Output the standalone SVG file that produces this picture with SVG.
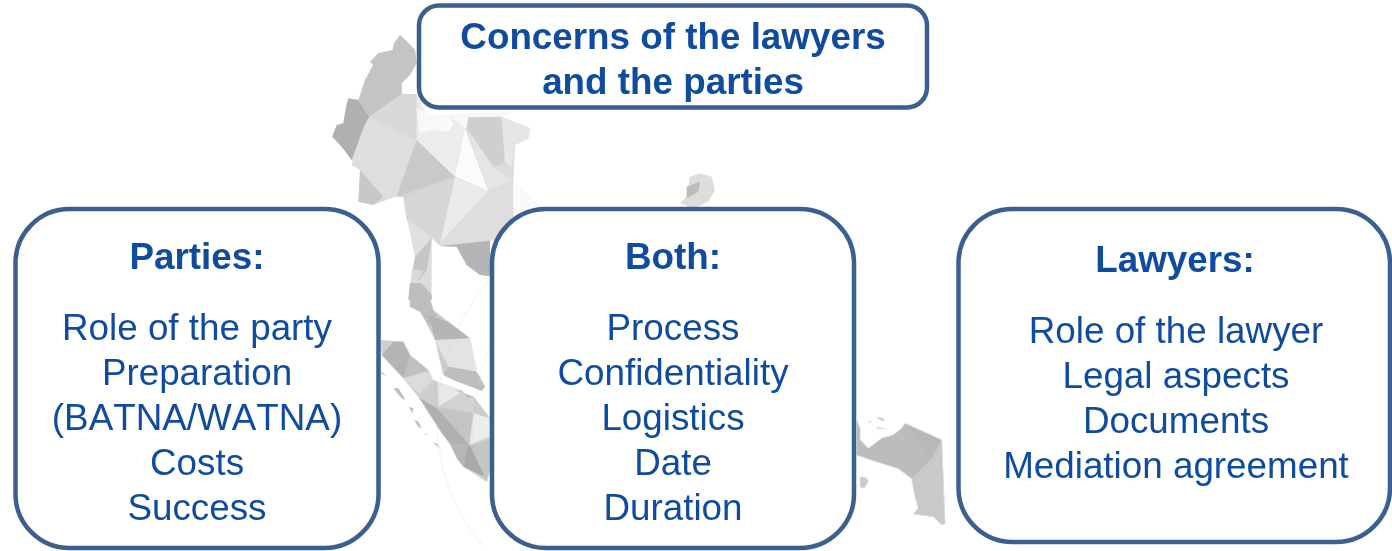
<svg xmlns="http://www.w3.org/2000/svg" width="1392" height="551" viewBox="0 0 1392 551">
<defs><filter id="soft" x="-5%" y="-5%" width="110%" height="110%"><feGaussianBlur stdDeviation="0.5"/></filter></defs>
<style>
.box{fill:#fff;stroke:#3b6090;stroke-width:4.5}
text{font-family:"Liberation Sans",Arial,sans-serif;fill:#0f4c9f;text-anchor:middle;font-kerning:none}
.h{font-weight:bold;font-size:36.800px}
.b{font-size:36.800px}
.d{fill:none;stroke:#c8c8c8;stroke-width:2;stroke-dasharray:3 4}
</style>
<rect width="1392" height="551" fill="#fff"/>
<g id="map" filter="url(#soft)">
<g transform="translate(320 0) scale(.33333)">
<path fill="#dcdcdc" d="M240 105L262 125 285 150 290 190 245 250 245 282 290 282 300 330 340 390 385 395 400 375 390 352 435 385 445 352 545 350 630 385 625 415 585 435 580 545 660 620 580 690 510 722 510 828 480 825 440 795 410 740 360 738 335 715 335 900 265 900 270 850 285 770 262 660 250 590 225 590 160 615 115 605 120 510 95 480 65 440 37 410 50 375 70 370 85 295 115 300 135 240 160 195 150 185 175 160 218 150 222 130Z"/>
<path fill="#c4c4c4" d="M240 105L262 125 285 150 290 190 270 225 245 250 245 282 150 350 115 300 135 240 160 195 150 185 175 160 218 150 222 130Z"/>
<path fill="#b0b0b0" d="M115 300L85 295 78 320 70 370 50 375 37 410 65 440 95 480 130 385 148 350Z"/>
<path fill="#d8d8d8" d="M148 350L245 282 290 282 290 420Z"/>
<path fill="#dedede" d="M148 350L290 420 225 590 190 590 120 510 95 495 130 385Z"/>
<path fill="#c8c8c8" d="M120 510L190 590 160 615 115 605Z"/>
<path fill="#c9c9c9" d="M290 420L405 530 230 590Z"/>
<path fill="#ececec" d="M290 282L340 390 385 395 400 375 390 352 435 385 405 530 290 420Z"/>
<path fill="#f8f8f8" d="M290 325L340 345 450 340 580 335 550 350 435 385 390 352 385 395 340 390 300 400Z"/>
<path fill="#cfcfcf" d="M440 385L445 352 545 350 555 490 520 500Z"/>
<path fill="#e6e6e6" d="M545 350L630 385 625 415 585 435 575 500 555 490Z"/>
<path fill="#fbfbfb" d="M435 385L505 572 405 530Z"/>
<path fill="#e5e5e5" d="M440 385L520 500 580 540 505 572Z"/>
<path fill="#d2d2d2" d="M405 530L360 730 250 590 230 590Z"/>
<path fill="#d6d6d6" d="M250 590L405 535 360 730 330 710 260 660Z"/>
<path fill="#ebebeb" d="M405 535L505 572 360 730Z"/>
<path fill="#dedede" d="M505 572L580 545 580 690 555 720 360 730Z"/>
<path fill="#fafafa" d="M580 545L660 620 580 690Z"/>
<path fill="#b5b5b5" d="M360 738L510 722 510 828 480 825 440 795 410 740Z"/>
<path fill="#e0e0e0" d="M262 660L335 710 325 760 290 780 280 735Z"/>
<path fill="#c5c5c5" d="M285 770L335 715 320 810 300 840 275 830Z"/>
<path fill="#bdbdbd" d="M270 850L305 850 335 885 335 900 265 900Z"/>
<path fill="#ddd" d="M1100 590L1110 530 1140 520 1175 530 1185 570 1165 605 1120 625 1080 610Z"/>
<path fill="#bbb" d="M1100 560L1140 545 1135 575 1100 595Z"/>
</g>
<g transform="translate(360 270) scale(.33333)">
<path fill="#ccc" d="M150 40L180 40 205 70 220 120 265 155 330 205 350 305 375 350 365 362 280 330 250 315 225 210 205 170 195 150 180 125 150 110Z"/>
<path fill="#ccc" d="M62 210L130 215 150 255 205 300 220 330 285 355 345 385 390 445 390 600 380 635 310 590 270 522 235 440 178 385 130 325 65 255Z"/>
<path fill="#bdbdbd" d="M150 40L180 40 205 70 220 120 230 135 205 170 195 150 180 125 150 110Z"/>
<path fill="#b5b5b5" d="M205 135L265 155 330 205 225 210Z"/>
<path fill="#e3e3e3" d="M225 210L330 205 345 275 350 305 265 290Z"/>
<path fill="#bdbdbd" d="M265 290L350 305 375 350 365 362 320 345 280 330 250 315Z"/>
<path fill="#d8d8d8" d="M155 0L190 0 180 25 155 30Z"/>
<path fill="#b5b5b5" d="M350 0L390 0 390 18 360 12Z"/>
<path fill="#d0d0d0" d="M62 210L100 215 65 255Z"/>
<path fill="#b4b4b4" d="M100 215L130 215 150 255 130 325 65 255Z"/>
<path fill="#c0c0c0" d="M150 255L205 300 130 325Z"/>
<path fill="#dcdcdc" d="M130 325L205 305 220 330 180 375Z"/>
<path fill="#cfcfcf" d="M220 330L232 412 178 390 180 370Z"/>
<path fill="#b0b0b0" d="M178 385L232 415 328 525 270 522 245 490Z"/>
<path fill="#e9e9e9" d="M232 335L285 355 300 370 236 410Z"/>
<path fill="#d2d2d2" d="M285 355L345 385 340 435 235 412 300 370Z"/>
<path fill="#c4c4c4" d="M235 412L340 430 328 525Z"/>
<path fill="#ececec" d="M340 430L390 445 390 500 328 525Z"/>
<path fill="#b7b7b7" d="M270 522L328 525 310 590 290 565Z"/>
<path fill="#a9a9a9" d="M325 525L345 530 375 620 310 590Z"/>
<path fill="#c5c5c5" d="M330 528L390 510 390 600 380 635 360 590Z"/>
<path fill="#bbb" d="M100 355L115 355 137 390 125 385ZM147 410L160 415 157 432ZM162 450L175 455 185 475 175 470ZM220 518L230 520 238 535ZM62 302L78 318 65 312ZM195 488L203 495 197 495ZM297 356L310 365 302 365ZM310 372L345 380 325 382Z"/>
<path class="d" d="M390 30C290 140 230 300 230 440C232 620 300 760 385 840"/>
<path class="d" d="M390 225C350 320 340 440 335 520"/>
</g>
<g transform="translate(840 390) scale(.33333)">
<path fill="#c2c2c2" d="M50 90L60 115 60 150 85 175 125 145 160 135 185 115 195 100 305 150 315 400 305 405 280 380 220 372 235 355 225 320 215 265 175 235 110 215 50 195Z"/>
<path fill="#bcbcbc" d="M50 90L60 115 60 150 85 175 125 145 160 135 185 115 195 100 275 205 215 265 175 235 110 215 50 195Z"/>
<path fill="#b8b8b8" d="M195 100L305 150 275 205Z"/>
<path fill="#c9c9c9" d="M305 150L315 400 305 405 280 380 220 372 235 355 225 320 215 265 275 205Z"/>
<path fill="#ccc" d="M60 260L80 262 85 275 72 295 60 290ZM110 110L145 118 110 115ZM110 80L130 85 135 93 118 90ZM85 90L95 97 88 98Z"/>
</g>
</g>
<g id="title">
<rect class="box" x="419" y="5.500" width="508" height="102" rx="20"/>
<text class="h" x="673" y="48.500">Concerns of the lawyers</text>
<text class="h" x="673" y="93.500">and the parties</text>
</g>
<g id="parties">
<rect class="box" x="15.500" y="209" width="363" height="339" rx="54"/>
<text class="h" x="197" y="268.500">Parties:</text>
<text class="b" x="197" y="339.500">Role of the party</text>
<text class="b" x="197" y="384.500">Preparation</text>
<text class="b" x="197" y="429.500">(BATNA/WATNA)</text>
<text class="b" x="197" y="474.500">Costs</text>
<text class="b" x="197" y="519.500">Success</text>
</g>
<g id="both">
<rect class="box" x="492" y="209" width="362" height="339" rx="54"/>
<text class="h" x="673" y="268.500">Both:</text>
<text class="b" x="673" y="339.500">Process</text>
<text class="b" x="673" y="384.500">Confidentiality</text>
<text class="b" x="673" y="429.500">Logistics</text>
<text class="b" x="673" y="474.500">Date</text>
<text class="b" x="673" y="519.500">Duration</text>
</g>
<g id="lawyers">
<rect class="box" x="958.500" y="209" width="431.500" height="333" rx="54"/>
<text class="h" x="1175" y="271.500">Lawyers:</text>
<text class="b" x="1176" y="342.500">Role of the lawyer</text>
<text class="b" x="1176" y="387.500">Legal aspects</text>
<text class="b" x="1176" y="432.500">Documents</text>
<text class="b" x="1176" y="477.500">Mediation agreement</text>
</g>
<g id="connectors"/>
</svg>
